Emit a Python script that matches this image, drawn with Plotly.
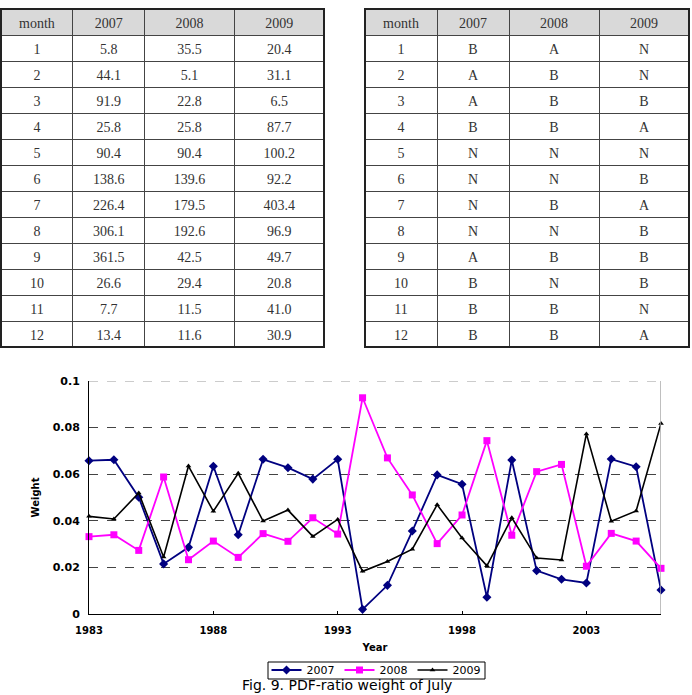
import plotly.graph_objects as go

W, H = 692, 695

# ---- table data ----
months = [str(m) for m in range(1, 13)]
rain_2007 = ["5.8", "44.1", "91.9", "25.8", "90.4", "138.6", "226.4", "306.1", "361.5", "26.6", "7.7", "13.4"]
rain_2008 = ["35.5", "5.1", "22.8", "25.8", "90.4", "139.6", "179.5", "192.6", "42.5", "29.4", "11.5", "11.6"]
rain_2009 = ["20.4", "31.1", "6.5", "87.7", "100.2", "92.2", "403.4", "96.9", "49.7", "20.8", "41.0", "30.9"]
cat_2007 = ["B", "A", "A", "B", "N", "N", "N", "N", "A", "B", "B", "B"]
cat_2008 = ["A", "B", "B", "B", "N", "N", "B", "N", "B", "N", "B", "B"]
cat_2009 = ["N", "N", "B", "A", "N", "B", "A", "B", "B", "B", "N", "A"]
table_header = ["month", "2007", "2008", "2009"]

# ---- chart data ----
years = list(range(1983, 2007))
w_2007 = [0.0658, 0.0662, 0.0501, 0.0215, 0.0286, 0.0634, 0.0340, 0.0664, 0.0628, 0.0579,
          0.0664, 0.0020, 0.0123, 0.0356, 0.0597, 0.0557, 0.0072, 0.0661, 0.0186, 0.0149,
          0.0133, 0.0665, 0.0632, 0.0103]
w_2008 = [0.0332, 0.0340, 0.0273, 0.0588, 0.0233, 0.0313, 0.0243, 0.0345, 0.0312, 0.0413,
          0.0343, 0.0928, 0.0670, 0.0511, 0.0302, 0.0425, 0.0744, 0.0338, 0.0611, 0.0642,
          0.0205, 0.0346, 0.0313, 0.0196]
w_2009 = [0.0419, 0.0408, 0.0519, 0.0245, 0.0635, 0.0441, 0.0604, 0.0399, 0.0446, 0.0333,
          0.0406, 0.0183, 0.0225, 0.0278, 0.0469, 0.0326, 0.0207, 0.0413, 0.0240, 0.0232,
          0.0773, 0.0398, 0.0442, 0.0818]
x_ticks = [1983, 1988, 1993, 1998, 2003]
y_ticks = [0, 0.02, 0.04, 0.06, 0.08, 0.1]
y_ticklabels = ["0", "0.02", "0.04", "0.06", "0.08", "0.1"]


def px_x(p):
    return p / W


def px_y(p):
    return (H - p) / H


fig = go.Figure()

tfont = dict(family="Liberation Serif, DejaVu Serif, serif", size=14, color="#333333")


def add_table(cols, x0, x1):
    fig.add_trace(go.Table(
        domain=dict(x=[px_x(x0), px_x(x1)], y=[px_y(352), px_y(9)]),
        columnwidth=[72, 72, 90, 90],
        header=dict(values=table_header, height=26, fill_color="#d9d9d9",
                    line=dict(color="#444444", width=1), font=tfont, align="center"),
        cells=dict(values=cols, height=26, fill_color="white",
                   line=dict(color="#444444", width=1), font=tfont, align="center"),
    ))


add_table([months, rain_2007, rain_2008, rain_2009], 1, 324)
add_table([months, cat_2007, cat_2008, cat_2009], 365, 689)

# thick outer borders of the tables
for (x0, x1) in [(1, 324), (365, 689)]:
    fig.add_shape(type="rect", xref="paper", yref="paper",
                  x0=px_x(x0), x1=px_x(x1), y0=px_y(347), y1=px_y(9),
                  line=dict(color="#222222", width=2), layer="above")

fig.add_trace(go.Scatter(x=years, y=w_2007, name="2007", mode="lines+markers",
                         line=dict(color="#000080", width=1.8),
                         marker=dict(symbol="diamond", size=7, color="#000080"),
                         cliponaxis=False))
fig.add_trace(go.Scatter(x=years, y=w_2008, name="2008", mode="lines+markers",
                         line=dict(color="#FF00FF", width=1.8),
                         marker=dict(symbol="square", size=7, color="#FF00FF"),
                         cliponaxis=False))
fig.add_trace(go.Scatter(x=years, y=w_2009, name="2009", mode="lines+markers",
                         line=dict(color="#000000", width=1.6),
                         marker=dict(symbol="triangle-up", size=5, color="#000000"),
                         cliponaxis=False))

xfont = dict(family="DejaVu Sans, Verdana, sans-serif", size=10, color="#000000")
yfont = dict(family="DejaVu Sans, Verdana, sans-serif", size=11, color="#000000")

fig.update_layout(
    width=W, height=H,
    margin=dict(l=0, r=0, t=0, b=0, pad=0, autoexpand=False),
    paper_bgcolor="white", plot_bgcolor="white",
    showlegend=True,
    legend=dict(orientation="h", x=px_x(376), xanchor="center", y=px_y(655.5), yanchor="top",
                borderwidth=0, bgcolor="rgba(0,0,0,0)",
                font=dict(family="DejaVu Sans, Arial, sans-serif", size=11, color="#000000"),
                itemwidth=30, tracegroupgap=0),
    xaxis=dict(domain=[px_x(89), px_x(661)], range=[1983, 2006], automargin=False,
               tickvals=x_ticks, ticktext=[f"<b>{v}</b>" for v in x_ticks],
               ticks="inside", ticklen=3, tickcolor="#000",
               showline=True, linecolor="#000000", linewidth=1,
               showgrid=False, zeroline=False, tickfont=xfont, ticklabelstandoff=7,
               title=dict(text="<b>Year</b>", font=xfont, standoff=8)),
    yaxis=dict(domain=[px_y(614), px_y(381)], range=[0, 0.1], automargin=False,
               tickvals=y_ticks, ticktext=[f"<b>{t}</b>" for t in y_ticklabels],
               ticks="", showline=True, linecolor="#000000", linewidth=1,
               showgrid=True, gridcolor="#444444", griddash="dash", gridwidth=1,
               zeroline=False, tickfont=yfont, ticklabelstandoff=6,
               title=dict(text="<b>Weight</b>", font=xfont, standoff=11)),
)

# top dashed frame line and right border of plot area
fig.add_shape(type="line", xref="x", yref="y", x0=1983, x1=2006, y0=0.1, y1=0.1,
              line=dict(color="#999999", width=1.2, dash="dash"))
fig.add_shape(type="line", xref="x", yref="y", x0=2006, x1=2006, y0=0, y1=0.1,
              line=dict(color="#aaaaaa", width=1.5))

# tight frame around the legend entries
fig.add_shape(type="rect", xref="paper", yref="paper",
              x0=px_x(268), x1=px_x(485), y0=px_y(679), y1=px_y(662),
              line=dict(color="#000000", width=1), layer="below")

# caption
fig.add_annotation(text="Fig. 9. PDF-ratio weight of July", xref="paper", yref="paper",
                   x=px_x(347), y=0, xanchor="center", yanchor="bottom",
                   showarrow=False,
                   font=dict(family="DejaVu Sans, Arial, sans-serif", size=14, color="#000000"))

fig.write_html("out.html")
